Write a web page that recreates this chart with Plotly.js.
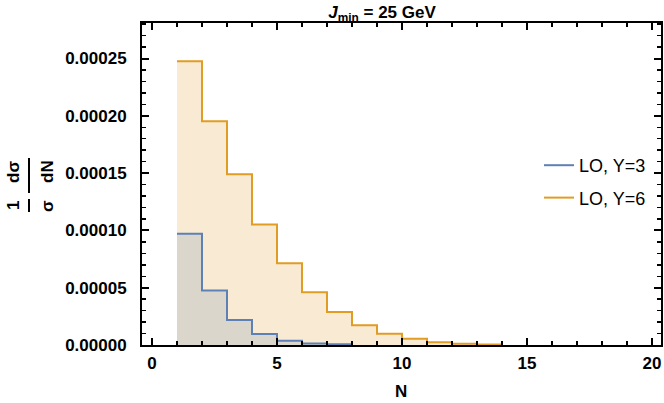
<!DOCTYPE html>
<html>
<head>
<meta charset="utf-8">
<script src="https://cdn.plot.ly/plotly-3.0.1.min.js"></script>
<style>html,body{margin:0;padding:0;background:#fff;}#chart{width:664px;height:403px;}</style>
</head>
<body>
<div id="chart"></div>
<script>
// Bin left edges and normalized distributions (1/sigma dsigma/dN)
const binStartY3 = [1, 2, 3, 4, 5, 6, 7];
const valuesY3 = [9.70e-5, 4.75e-5, 2.19e-5, 9.6e-6, 3.8e-6, 1.3e-6, 0.6e-6];
const binStartY6 = [1, 2, 3, 4, 5, 6, 7, 8, 9, 10, 11, 12, 13];
const valuesY6 = [2.477e-4, 1.952e-4, 1.489e-4, 1.052e-4, 7.14e-5, 4.60e-5, 2.88e-5, 1.72e-5, 9.9e-6, 5.5e-6, 2.4e-6, 1.1e-6, 0.5e-6];
const seriesNames = ["LO, Y=3", "LO, Y=6"];
const xTickVals = [0, 5, 10, 15, 20];

const blue = "rgb(94,129,181)";
const orange = "rgb(225,156,36)";

function stepX(starts){ return starts.concat([starts[starts.length-1] + 1]); }
function stepY(vals){ return vals.concat([vals[vals.length-1]]); }

const W = 664, H = 403;
const m = {l: 142, r: 3, t: 23, b: 58};
const pw = W - m.l - m.r, ph = H - m.t - m.b;
const px = x => (x - m.l) / pw;
const py = y => (H - m.b - y) / ph;

const traces = [
  {x: stepX(binStartY6), y: stepY(valuesY6), mode: "lines", line: {shape: "hv", color: orange, width: 2},
   fill: "tozeroy", fillcolor: "rgba(225,156,36,0.2)", showlegend: false, hoverinfo: "skip"},
  {x: stepX(binStartY3), y: stepY(valuesY3), mode: "lines", line: {shape: "hv", color: blue, width: 2},
   fill: "tozeroy", fillcolor: "rgba(94,129,181,0.2)", showlegend: false, hoverinfo: "skip"},
  {x: [null], y: [null], mode: "lines", line: {color: blue, width: 2}, name: seriesNames[0], legendgroup: "a"},
  {x: [null], y: [null], mode: "lines", line: {color: orange, width: 2}, name: seriesNames[1], legendgroup: "b"}
];

const labFont = {family: "Liberation Sans, Arial, sans-serif", size: 17, color: "#000"};
function lab(t, x, y, ang){
  return {text: "<b>" + t + "</b>", xref: "paper", yref: "paper", x: px(x), y: py(y), xanchor: "center", yanchor: "middle",
          textangle: ang, showarrow: false, font: labFont};
}

const layout = {
  width: W, height: H,
  margin: m,
  paper_bgcolor: "#fff", plot_bgcolor: "#fff",
  font: {family: "Liberation Sans, Arial, sans-serif", color: "#000"},
  title: {text: "<b><i>J</i><sub>min</sub> = 25 GeV</b>", x: 382 / W, xanchor: "center", y: 1 - 12 / H, yanchor: "middle",
          font: {size: 17, family: "Liberation Sans, Arial, sans-serif", color: "#000"}},
  xaxis: {range: [-0.4, 20.36], tickvals: xTickVals, ticks: "inside", ticklen: 7, tickwidth: 2, tickcolor: "#000",
          showline: true, linecolor: "#000", linewidth: 2, mirror: "ticks", showgrid: false, zeroline: false,
          minor: {dtick: 1, ticks: "inside", ticklen: 4, tickwidth: 1.5, tickcolor: "#000"},
          tickfont: {size: 17, weight: "bold", color: "#000"}, ticklabelstandoff: 2},
  yaxis: {range: [0, 0.000281], dtick: 0.00005, tick0: 0, tickformat: ".5f", ticks: "inside", ticklen: 7, tickwidth: 2, tickcolor: "#000",
          showline: true, linecolor: "#000", linewidth: 2, mirror: "ticks", showgrid: false, zeroline: false,
          minor: {dtick: 0.00001, ticks: "inside", ticklen: 4, tickwidth: 1.5, tickcolor: "#000"},
          tickfont: {size: 17, weight: "bold", color: "#000"}, ticklabelstandoff: 10},
  legend: {x: px(539), y: py(147), xanchor: "left", yanchor: "top", bgcolor: "rgba(0,0,0,0)",
           font: {size: 18, color: "#000"}, traceorder: "grouped", tracegroupgap: 6, itemwidth: 30},
  annotations: [
    lab("N", 401, 392, 0),
    lab("1", 13, 206, -90),
    lab("d\u03C3", 13, 172, -90),
    lab("\u03C3", 47, 206, -90),
    lab("dN", 47, 172, -90)
  ],
  shapes: [
    {type: "line", xref: "paper", yref: "paper", x0: px(29), x1: px(29), y0: py(199), y1: py(212), line: {color: "#000", width: 2}},
    {type: "line", xref: "paper", yref: "paper", x0: px(29), x1: px(29), y0: py(158), y1: py(193), line: {color: "#000", width: 2}}
  ]
};

Plotly.newPlot("chart", traces, layout, {displayModeBar: false, staticPlot: true});
</script>
</body>
</html>
